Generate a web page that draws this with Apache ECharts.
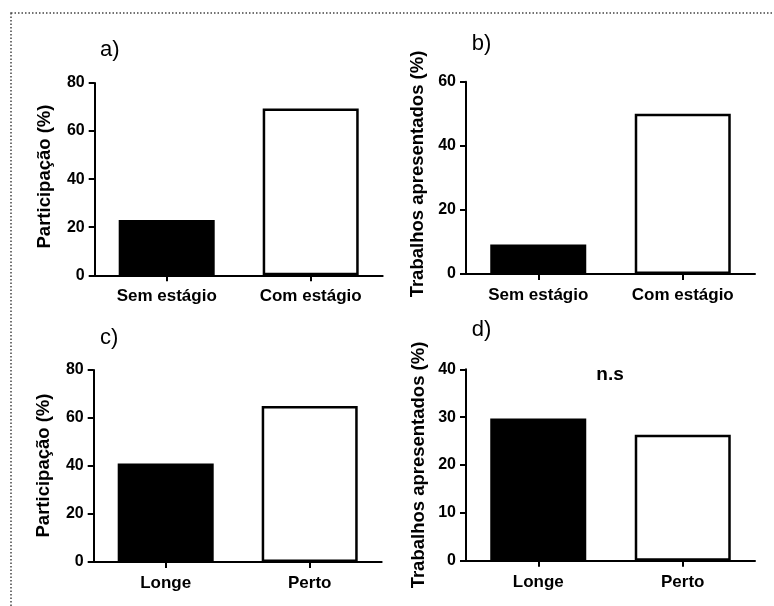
<!DOCTYPE html>
<html>
<head>
<meta charset="utf-8">
<script src="https://cdn.jsdelivr.net/npm/echarts@6/dist/echarts.min.js"></script>
<style>
html,body{margin:0;padding:0;background:#fff;}
#chart{width:774px;height:606px;}
</style>
</head>
<body>
<div id="chart"></div>
<script>
// Data
const catsStage = ['Sem estágio', 'Com estágio'];
const catsDist = ['Longe', 'Perto'];
const valsA = [23, 69.4];   // Participação (%)
const valsB = [9.2, 50];    // Trabalhos apresentados (%)
const valsC = [41, 65];     // Participação (%)
const valsD = [29.7, 26.3]; // Trabalhos apresentados (%)
const panelLabels = ['a)', 'b)', 'c)', 'd)'];
const yNames = ['Participação (%)', 'Trabalhos apresentados (%)', 'Participação (%)', 'Trabalhos apresentados (%)'];
const yMax = [80, 60, 80, 40];
const yInterval = [20, 20, 20, 10];
const annotation = 'n.s';

const FONT = 'Arial, "Liberation Sans", Helvetica, sans-serif';
const chart = echarts.init(document.getElementById('chart'));

const grids = [
  {left: 94.7, top: 83, width: 288, height: 192.3},
  {left: 466, top: 81.7, width: 289, height: 192.3},
  {left: 93.7, top: 370, width: 288, height: 192},
  {left: 466, top: 369.3, width: 289, height: 191.4}
];
const cats = [catsStage, catsStage, catsDist, catsDist];
const vals = [valsA, valsB, valsC, valsD];

const barStyles = [
  {color: '#000', borderColor: '#000', borderWidth: 2.5},
  {color: '#fff', borderColor: '#000', borderWidth: 2.5}
];

const axisLineStyle = {color: '#000', width: 2};

const option = {
  backgroundColor: '#fff',
  animation: false,
  grid: grids,
  xAxis: cats.map((c, i) => ({
    type: 'category', gridIndex: i, data: c,
    axisLine: {show: true, lineStyle: axisLineStyle},
    axisTick: {show: true, alignWithLabel: true, length: 6, lineStyle: axisLineStyle},
    axisLabel: {color: '#000', fontWeight: 'bold', fontSize: 17, fontFamily: FONT, margin: 13},
    splitLine: {show: false}
  })),
  yAxis: vals.map((v, i) => ({
    type: 'value', gridIndex: i, min: 0, max: yMax[i], interval: yInterval[i],
    axisLine: {show: true, lineStyle: axisLineStyle},
    axisTick: {show: true, length: 6, lineStyle: axisLineStyle},
    axisLabel: {color: '#000', fontWeight: 'bold', fontSize: 16, fontFamily: FONT, margin: 10},
    splitLine: {show: false}
  })),
  series: vals.map((v, i) => ({
    type: 'bar', xAxisIndex: i, yAxisIndex: i, barWidth: 96,
    data: v.map((val, j) => ({value: val, itemStyle: barStyles[j]}))
  })),
  graphic: [
    {type: 'rect', shape: {x: 11, y: 13, width: 900, height: 800}, silent: true,
     style: {fill: 'none', stroke: '#444', lineWidth: 1.5, lineDash: [1.5, 2]}},
    // panel labels
    {type: 'text', x: 100, y: 50, style: {text: panelLabels[0], font: '22px ' + FONT, fill: '#000', textVerticalAlign: 'middle'}},
    {type: 'text', x: 471.7, y: 44, style: {text: panelLabels[1], font: '22px ' + FONT, fill: '#000', textVerticalAlign: 'middle'}},
    {type: 'text', x: 100, y: 338, style: {text: panelLabels[2], font: '22px ' + FONT, fill: '#000', textVerticalAlign: 'middle'}},
    {type: 'text', x: 471.7, y: 329.5, style: {text: panelLabels[3], font: '22px ' + FONT, fill: '#000', textVerticalAlign: 'middle'}},
    // y axis names
    {type: 'text', x: 45, y: 176.5, rotation: Math.PI / 2, style: {text: yNames[0], font: 'bold 18.5px ' + FONT, fill: '#000', textAlign: 'center', textVerticalAlign: 'middle'}},
    {type: 'text', x: 417.5, y: 174, rotation: Math.PI / 2, style: {text: yNames[1], font: 'bold 18.5px ' + FONT, fill: '#000', textAlign: 'center', textVerticalAlign: 'middle'}},
    {type: 'text', x: 43.5, y: 465.5, rotation: Math.PI / 2, style: {text: yNames[2], font: 'bold 18.5px ' + FONT, fill: '#000', textAlign: 'center', textVerticalAlign: 'middle'}},
    {type: 'text', x: 418.5, y: 465, rotation: Math.PI / 2, style: {text: yNames[3], font: 'bold 18.5px ' + FONT, fill: '#000', textAlign: 'center', textVerticalAlign: 'middle'}},
    // annotation
    {type: 'text', x: 610, y: 375, style: {text: annotation, font: 'bold 19px ' + FONT, fill: '#000', textAlign: 'center', textVerticalAlign: 'middle'}}
  ]
};
chart.setOption(option);
</script>
</body>
</html>
